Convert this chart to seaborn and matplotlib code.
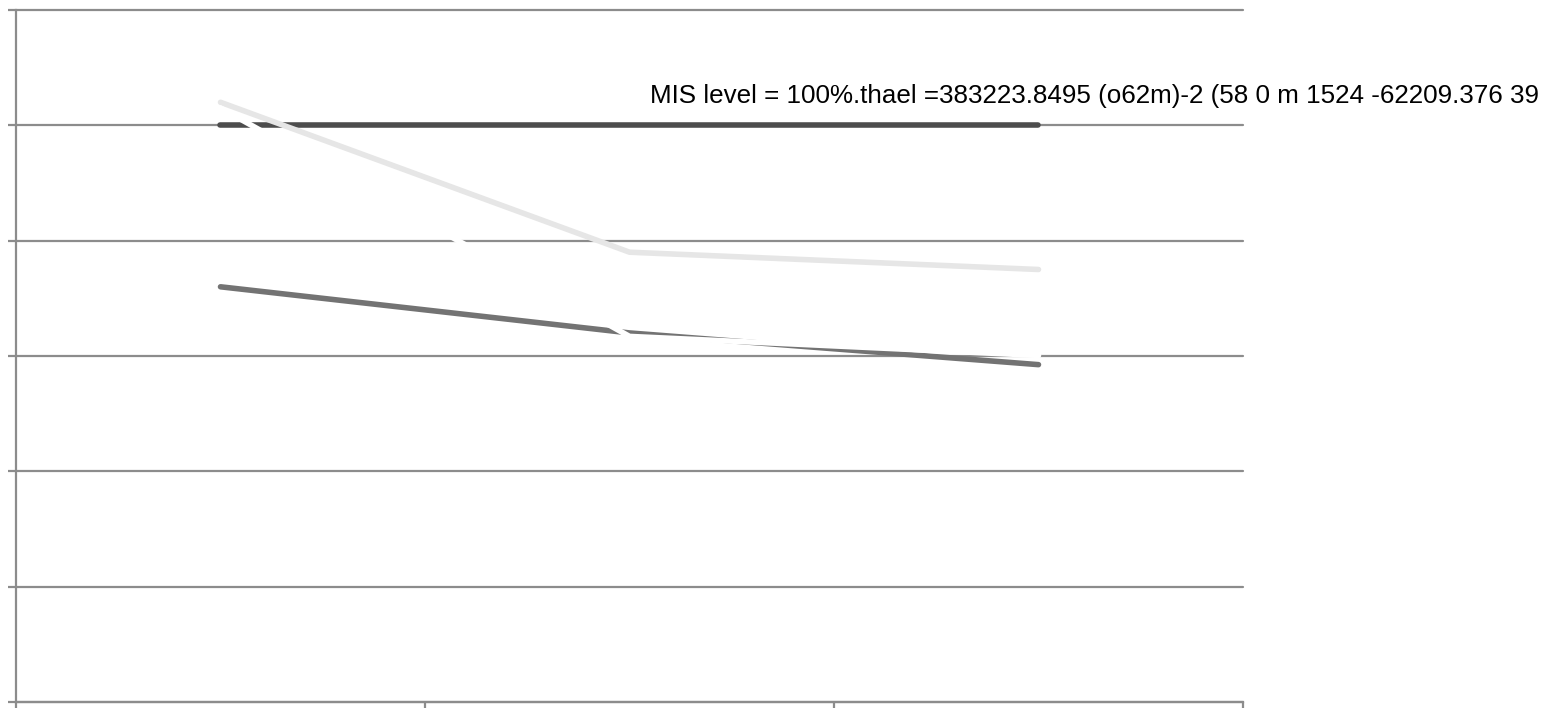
import numpy as np
import pandas as pd
import matplotlib
matplotlib.use("Agg")
import matplotlib.pyplot as plt
import seaborn as sns

# Data (y axis 0-120, three categories)
categories = ["Cat 1", "Cat 2", "Cat 3"]
mis_level = [100, 100, 100]
series_light = [104, 78, 75]
series_mid = [72, 64, 58.5]
series_white = [103, 63.4, 60.1]
y_ticks = [0, 20, 40, 60, 80, 100, 120]
note = "MIS level = 100%.thael =383223.8495 (o62m)-2 (58 0 m 1524 -62209.376 39"

sns.set_style("white")
plt.rcParams["font.family"] = ["Liberation Sans", "DejaVu Sans"]

x = np.arange(len(categories)) + 0.5
df = pd.DataFrame({"x": x, "mis": mis_level, "light": series_light,
                   "mid": series_mid, "white": series_white})

fig = plt.figure(figsize=(15.57, 7.08), dpi=100)
ax = fig.add_axes([16 / 1557, 6 / 708, 1227 / 1557, 692 / 708])

grid_col = "#8c8c8c"
lw = 4.0
sns.lineplot(data=df, x="x", y="mid", ax=ax, color="#737373", linewidth=lw,
             solid_capstyle="round", zorder=3)
sns.lineplot(data=df, x="x", y="mis", ax=ax, color="#4d4d4d", linewidth=lw,
             solid_capstyle="round", zorder=3)
sns.lineplot(data=df, x="x", y="light", ax=ax, color="#e6e6e6", linewidth=lw,
             solid_capstyle="round", zorder=4)
sns.lineplot(data=df, x="x", y="white", ax=ax, color="white", linewidth=lw,
             solid_capstyle="round", zorder=5)

ax.set_xlim(0, len(categories))
ax.set_ylim(y_ticks[0], y_ticks[-1])
ax.set_xticks(np.arange(len(categories) + 1))
ax.set_yticks(y_ticks)
ax.set_xticklabels([])
ax.set_yticklabels([])
ax.set_xlabel("")
ax.set_ylabel("")
ax.yaxis.grid(True, color=grid_col, linewidth=1.6)
for gl in ax.get_ygridlines():
    gl.set_clip_on(False)
ax.set_axisbelow(True)
ax.tick_params(axis="both", direction="out", length=6, width=1.6,
               color=grid_col, left=True, bottom=True)

for side in ["top", "right"]:
    ax.spines[side].set_visible(False)
for side in ["left", "bottom"]:
    ax.spines[side].set_color(grid_col)
    ax.spines[side].set_linewidth(1.6)

ax.text(1.55, 103.9, note, fontsize=18.7, color="black", ha="left",
        va="baseline", clip_on=False)

fig.savefig("out.png", dpi=100)
